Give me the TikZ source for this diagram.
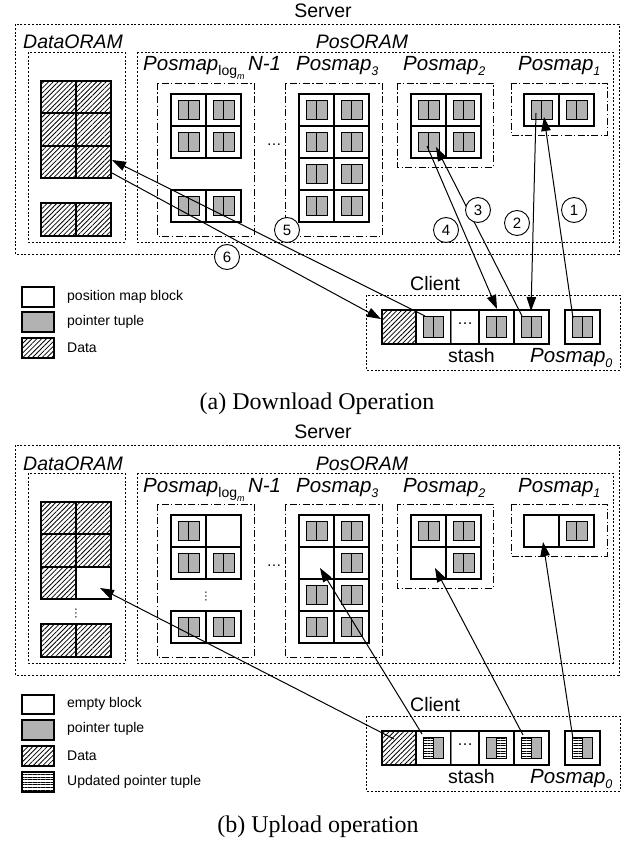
\documentclass[tikz,border=0pt]{standalone}
\usepackage{fontspec}
\setmainfont{Liberation Sans}
\newfontfamily\capfont{Liberation Serif}
\usetikzlibrary{patterns.meta,arrows.meta}
\tikzset{
 dotbox/.style={draw,line width=0.9pt,dash pattern=on 2pt off 1.8pt},
 ddbox/.style={draw,line width=0.9pt,dash pattern=on 7pt off 2.5pt on 1.2pt off 2.5pt},
 cellst/.style={draw,fill=white,line width=1.3pt},
 tupst/.style={draw,fill=gray!60,line width=0.8pt},
 datast/.style={draw,line width=1.3pt,pattern={Lines[angle=45,distance=3.4pt,line width=0.8pt]}},
 updst/.style={pattern={Lines[angle=0,distance=2.6pt,line width=0.7pt]}},
 lbl/.style={inner sep=0pt,font=\fontsize{19.5}{22}\selectfont},
 lgd/.style={inner sep=0pt,anchor=west,font=\fontsize{14}{16}\selectfont},
 num/.style={draw,circle,fill=white,line width=0.9pt,minimum size=25pt,inner sep=0pt,font=\fontsize{15}{16}\selectfont},
 arr/.style={line width=1pt,-{Triangle[length=14pt,width=9.5pt]}},
 capst/.style={inner sep=0pt,font=\capfont\fontsize{24}{28}\selectfont},
}
\newcommand{\Tup}[2]{\draw[tupst] ({#1-10.5},{#2-9.5}) rectangle ({#1+10.5},{#2+9.5}); \draw[line width=0.8pt] ({#1},{#2-9.5}) -- ({#1},{#2+9.5});}
\newcommand{\FCell}[2]{\draw[cellst] (#1,#2) rectangle ({#1+35},{#2+32}); \Tup{#1+17.5}{#2+16}}
\newcommand{\ECell}[2]{\draw[cellst] (#1,#2) rectangle ({#1+35},{#2+32});}
\newcommand{\STup}[2]{\draw[tupst] ({#1-10},{#2-10.5}) rectangle ({#1+10},{#2+10.5}); \draw[line width=0.8pt] ({#1},{#2-10.5}) -- ({#1},{#2+10.5});}
\newcommand{\UTupL}[2]{\fill[gray!60] ({#1},{#2-10.5}) rectangle ({#1+10},{#2+10.5}); \fill[updst] ({#1-10},{#2-10.5}) rectangle ({#1},{#2+10.5}); \draw[line width=0.8pt] ({#1-10},{#2-10.5}) rectangle ({#1+10},{#2+10.5}) ({#1},{#2-10.5}) -- ({#1},{#2+10.5});}
\newcommand{\UTupR}[2]{\fill[gray!60] ({#1-10},{#2-10.5}) rectangle ({#1},{#2+10.5}); \fill[updst] ({#1},{#2-10.5}) rectangle ({#1+10},{#2+10.5}); \draw[line width=0.8pt] ({#1-10},{#2-10.5}) rectangle ({#1+10},{#2+10.5}) ({#1},{#2-10.5}) -- ({#1},{#2+10.5});}
\newcommand{\PanelFrame}[1]{%
 \node[lbl] (server#1) at (323,11) {Server};
 \draw[dotbox] (15,24) rectangle (619,254);
 \node[lbl,anchor=base west] (dataoram#1) at (23,49) {\itshape DataORAM};
 \draw[dotbox] (28,52) rectangle (125,242);
 \node[lbl,anchor=base] (posoram#1) at (362,49) {\itshape PosORAM};
 \draw[dotbox] (137,52) rectangle (613,242);
 \node[lbl,anchor=base west,font=\fontsize{20.5}{22}\selectfont] (pmlog#1) at (143,71) {\textit{Posmap}\raisebox{-5pt}{\fontsize{14}{14}\selectfont log\raisebox{-4pt}{\fontsize{9}{9}\selectfont\itshape m}}\,\textit{N-1}};
 \node[lbl,anchor=base west,font=\fontsize{20.5}{22}\selectfont] (pmc#1) at (296,71) {\textit{Posmap}\raisebox{-5pt}{\fontsize{12.5}{12.5}\selectfont\itshape 3}};
 \node[lbl,anchor=base west,font=\fontsize{20.5}{22}\selectfont] (pmb#1) at (403,71) {\textit{Posmap}\raisebox{-5pt}{\fontsize{12.5}{12.5}\selectfont\itshape 2}};
 \node[lbl,anchor=base west,font=\fontsize{20.5}{22}\selectfont] (pma#1) at (518,71) {\textit{Posmap}\raisebox{-5pt}{\fontsize{12.5}{12.5}\selectfont\itshape 1}};
 \draw[ddbox] (157,83) rectangle (254,236);
 \draw[ddbox] (285,83) rectangle (382,236);
 \draw[ddbox] (397,83) rectangle (493,167);
 \draw[ddbox] (511,83) rectangle (607,135);
 \node[inner sep=0pt,font=\fontsize{15}{15}\selectfont] (hdots#1) at (274,145) {…};
 \node[lbl,anchor=base west] (client#1) at (410,290) {Client};
 \draw[dotbox] (366,295) rectangle (620,370);
 \draw[datast] (382,310) rectangle (416,344);
 \draw[line width=1.1pt,fill=white] (416,310) rectangle (451,344);
 \draw[line width=0.8pt,draw=gray,fill=white] (451,310) rectangle (479,344);
 \draw[line width=1.1pt,fill=white] (479,310) rectangle (514,344);
 \draw[line width=1.3pt] (382,310) rectangle (514,344);
 \draw[line width=1.6pt,fill=white] (514,310) rectangle (549,344);
 \draw[line width=1.3pt,fill=white] (565,310) rectangle (600,344);
 \node[inner sep=0pt,font=\fontsize{16}{16}\selectfont] (sdots#1) at (465,324) {…};
 \node[lbl,anchor=base west] (stash#1) at (448,362) {stash};
 \node[lbl,anchor=base west,font=\fontsize{20.5}{22}\selectfont] (pmz#1) at (530,362) {\textit{Posmap}\raisebox{-5pt}{\fontsize{12.5}{12.5}\selectfont\itshape 0}};
}
\begin{document}
\begin{tikzpicture}[x=1pt,y=-1pt]
\useasboundingbox[fill=white] (0,0) rectangle (639,842);
% ================= panel (a) =================
\PanelFrame{A}
% data
\draw[datast] (41,81) rectangle (76,113); \draw[datast] (76,81) rectangle (111,113);
\draw[datast] (41,113) rectangle (76,146); \draw[datast] (76,113) rectangle (111,146);
\draw[datast] (41,146) rectangle (76,178); \draw[datast] (76,146) rectangle (111,178);
\draw[datast] (41,203) rectangle (76,236); \draw[datast] (76,203) rectangle (111,236);
% posmap log
\FCell{171}{94}\FCell{206}{94}\FCell{171}{126}\FCell{206}{126}
\FCell{171}{190}\FCell{206}{190}
% posmap 3
\FCell{299}{94}\FCell{334}{94}\FCell{299}{126}\FCell{334}{126}
\FCell{299}{158}\FCell{334}{158}\FCell{299}{190}\FCell{334}{190}
% posmap 2
\FCell{411}{94}\FCell{446}{94}\FCell{411}{126}\FCell{446}{126}
% posmap 1
\FCell{524}{94}\FCell{559}{94}
% stash tuples
\STup{433.5}{327}\STup{496.5}{327}\STup{531.5}{327}\STup{582.5}{327}
% legend
\draw[line width=1.3pt,fill=white] (22,287) rectangle (54,307);
\draw[line width=1.3pt,fill=gray!60] (22,312) rectangle (54,332);
\draw[datast] (22,338) rectangle (54,358);
\node[lgd] (lgA1) at (67,297) {position map block};
\node[lgd] (lgA2) at (67,322) {pointer tuple};
\node[lgd] (lgA3) at (67,348) {Data};
% arrows
\coordinate (a1s) at (573,318); \coordinate (a1e) at (544,117);
\coordinate (a2s) at (536,113); \coordinate (a2e) at (531,311);
\coordinate (a3s) at (522,316); \coordinate (a3e) at (436,147);
\coordinate (a4s) at (427,146); \coordinate (a4e) at (497,309);
\coordinate (a5s) at (425,316); \coordinate (a5e) at (112,160);
\coordinate (a6s) at (112,173); \coordinate (a6e) at (381,319);
\draw[arr] (a1s) -- (a1e);
\draw[arr] (a2s) -- (a2e);
\draw[arr] (a3s) -- (a3e);
\draw[arr] (a4s) -- (a4e);
\draw[arr] (a5s) -- (a5e);
\draw[arr] (a6s) -- (a6e);
\node[num] (c1) at (574,210) {1};
\node[num] (c2) at (517,223) {2};
\node[num] (c3) at (478,210) {3};
\node[num] (c4) at (446,230) {4};
\node[num] (c5) at (287,230) {5};
\node[num] (c6) at (227,257) {6};
\node[capst] (capA) at (317,404) {(a) Download Operation};
% ================= panel (b) =================
\begin{scope}[yshift=-421pt]
\PanelFrame{B}
\draw[datast] (41,81) rectangle (76,113); \draw[datast] (76,81) rectangle (111,113);
\draw[datast] (41,113) rectangle (76,146); \draw[datast] (76,113) rectangle (111,146);
\draw[datast] (41,146) rectangle (76,178); \draw[cellst] (76,146) rectangle (111,178);
\draw[datast] (41,203) rectangle (76,236); \draw[datast] (76,203) rectangle (111,236);
\node[inner sep=0pt,rotate=90,font=\fontsize{12}{12}\selectfont] (vdotsD) at (76,192) {…};
% posmap log
\FCell{171}{94}\ECell{206}{94}\FCell{171}{126}\FCell{206}{126}
\FCell{171}{190}\FCell{206}{190}
\node[inner sep=0pt,rotate=90,font=\fontsize{12}{12}\selectfont] (vdotsL) at (206,175) {…};
% posmap 3
\FCell{299}{94}\FCell{334}{94}\ECell{299}{126}\FCell{334}{126}
\FCell{299}{158}\FCell{334}{158}\FCell{299}{190}\FCell{334}{190}
% posmap 2
\FCell{411}{94}\FCell{446}{94}\ECell{411}{126}\FCell{446}{126}
% posmap 1
\ECell{524}{94}\FCell{559}{94}
% stash tuples (updated)
\UTupL{433.5}{327}\UTupR{496.5}{327}\UTupL{531.5}{327}\UTupL{582.5}{327}
% legend
\draw[line width=1.3pt,fill=white] (22,274) rectangle (54,293);
\draw[line width=1.3pt,fill=gray!60] (22,299) rectangle (54,319);
\draw[datast] (22,325) rectangle (54,345);
\fill[updst] (22,351) rectangle (54,371);
\draw[line width=1.3pt] (22,351) rectangle (54,371);
\node[lgd] (lgB1) at (67,283) {empty block};
\node[lgd] (lgB2) at (67,308) {pointer tuple};
\node[lgd] (lgB3) at (67,335) {Data};
\node[lgd] (lgB4) at (67,361) {Updated pointer tuple};
% arrows
\coordinate (b1s) at (573,318); \coordinate (b1e) at (543,121);
\coordinate (b2s) at (523,314); \coordinate (b2e) at (435,147);
\coordinate (b3s) at (422,313); \coordinate (b3e) at (320,147);
\coordinate (b4s) at (394,318); \coordinate (b4e) at (100,167);
\draw[arr] (b1s) -- (b1e);
\draw[arr] (b2s) -- (b2e);
\draw[arr] (b3s) -- (b3e);
\draw[arr] (b4s) -- (b4e);
\node[capst] (capB) at (318,406) {(b) Upload operation};
\end{scope}
\end{tikzpicture}
\end{document}
